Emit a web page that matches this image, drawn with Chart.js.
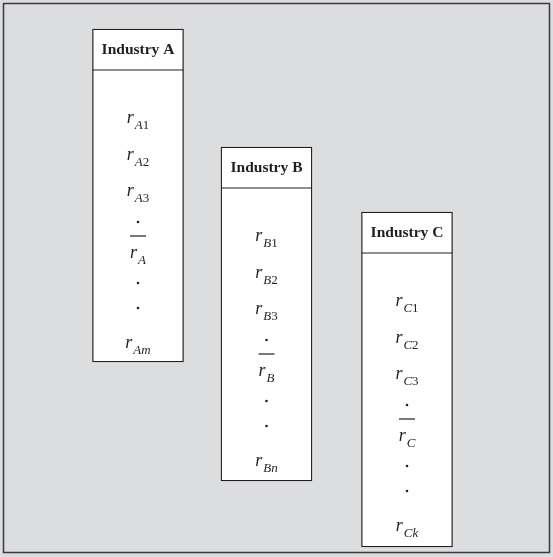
<!DOCTYPE html>
<html>
<head>
<meta charset="utf-8">
<script src="https://cdn.jsdelivr.net/npm/chart.js@4.4.1/dist/chart.umd.min.js"></script>
<style>
  html, body { margin: 0; padding: 0; background: #fff; }
  #wrap { width: 553px; height: 557px; position: relative; }
</style>
</head>
<body>
<div id="wrap"><canvas id="canvas"></canvas></div>
<script>
// industries and their stocks
const industries = ['Industry A', 'Industry B', 'Industry C'];
const letters = ['A', 'B', 'C'];
const lastIndex = ['m', 'n', 'k'];
// where each column sits on the (hidden) axes
const columnX = [138, 266.5, 407];
const columnTop = [29, 147, 212];
const columnBottom = [362, 481, 547];
// rows inside a column, offset from its top
const rowKind = ['1', '2', '3', 'dot', 'mean', 'dot', 'dot', 'last'];
const rowOffset = [91, 128, 164, 193, 226, 254, 279, 316];

const serif = '"Liberation Serif", "DejaVu Serif", serif';

function drawR(ctx, x, y, sub1, sub2) {
    ctx.save();
    ctx.fillStyle = '#231f20';
    ctx.textBaseline = 'alphabetic';
    ctx.font = 'italic 18px ' + serif;
    let wr = ctx.measureText('r').width;
    ctx.font = 'italic 13px ' + serif;
    let w1 = ctx.measureText(sub1).width;
    ctx.font = '13px ' + serif;
    let w2 = sub2 ? ctx.measureText(sub2).width : 0;
    let total = wr + w1 + w2 + 1;
    let sx = x - total / 2;
    ctx.font = 'italic 18px ' + serif;
    ctx.fillText('r', sx, y + 3);
    ctx.font = 'italic 13px ' + serif;
    ctx.fillText(sub1, sx + wr + 1, y + 9);
    if (sub2) {
        ctx.font = '13px ' + serif;
        ctx.fillText(sub2, sx + wr + 1 + w1, y + 9);
    }
    ctx.restore();
    return total;
}

const diagramPlugin = {
    id: 'diagram',
    beforeDraw(chart) {
        const ctx = chart.ctx;
        ctx.save();
        ctx.fillStyle = '#dcdddf';
        ctx.fillRect(0, 0, chart.width, chart.height);
        ctx.strokeStyle = '#3a3a3a';
        ctx.lineWidth = 1.5;
        ctx.strokeRect(3.5, 3.5, 546, 549);
        ctx.restore();
    },
    afterDatasetsDraw(chart) {
        const ctx = chart.ctx;
        const xs = chart.scales.x, ys = chart.scales.y;
        const half = 45.5;
        for (let i = 0; i < industries.length; i++) {
            let cx = xs.getPixelForValue(columnX[i]);
            let top = ys.getPixelForValue(columnTop[i]);
            // header divider
            ctx.save();
            ctx.strokeStyle = '#231f20';
            ctx.lineWidth = 1.2;
            ctx.beginPath();
            ctx.moveTo(cx - half, top + 41);
            ctx.lineTo(cx + half, top + 41);
            ctx.stroke();
            ctx.fillStyle = '#231f20';
            ctx.font = 'bold 15.5px ' + serif;
            ctx.textAlign = 'center';
            ctx.textBaseline = 'middle';
            ctx.fillText(industries[i], cx, top + 21);
            ctx.restore();

            for (let j = 0; j < rowKind.length; j++) {
                let y = ys.getPixelForValue(columnTop[i] + rowOffset[j]);
                let k = rowKind[j];
                if (k === 'dot') {
                    ctx.save();
                    ctx.fillStyle = '#231f20';
                    ctx.beginPath();
                    ctx.arc(cx, y, 1.3, 0, Math.PI * 2);
                    ctx.fill();
                    ctx.restore();
                } else if (k === 'mean') {
                    drawR(ctx, cx, y, letters[i], '');
                    ctx.save();
                    ctx.strokeStyle = '#231f20';
                    ctx.lineWidth = 1.2;
                    ctx.beginPath();
                    ctx.moveTo(cx - 8, y - 19);
                    ctx.lineTo(cx + 8, y - 19);
                    ctx.stroke();
                    ctx.restore();
                } else if (k === 'last') {
                    drawR(ctx, cx, y, letters[i] + lastIndex[i], '');
                } else {
                    drawR(ctx, cx, y, letters[i], k);
                }
            }
        }
    }
};

let ctx = document.getElementById('canvas').getContext('2d');
const mychart = new Chart(ctx, {
    type: 'bar',
    data: {
        datasets: [{
            label: 'columns',
            data: industries.map(function (name, i) {
                return { x: columnX[i], y: [columnTop[i], columnBottom[i]] };
            }),
            backgroundColor: '#ffffff',
            borderColor: '#231f20',
            borderWidth: 1.3,
            borderSkipped: false,
            barThickness: 91
        }]
    },
    options: {
        responsive: true,
        maintainAspectRatio: false,
        animation: false,
        layout: { padding: 0 },
        plugins: { legend: { display: false }, tooltip: { enabled: false }, title: { display: false } },
        scales: {
            x: { type: 'linear', min: 0, max: 553, offset: false, display: false },
            y: { type: 'linear', min: 0, max: 557, reverse: true, display: false }
        }
    },
    plugins: [diagramPlugin]
});
</script>
</body>
</html>
